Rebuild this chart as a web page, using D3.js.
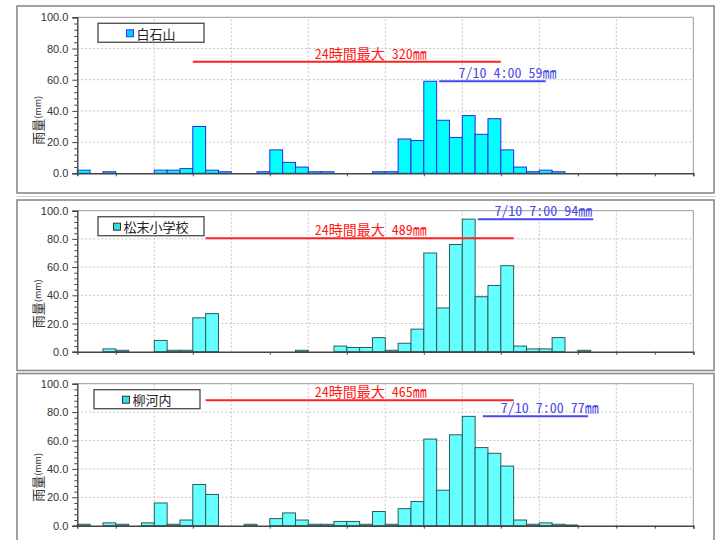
<!DOCTYPE html>
<html lang="ja">
<head>
    <meta charset="UTF-8">
    <title>雨量</title>
    <script src="https://d3js.org/d3.v7.min.js"></script>
    <style>
        body { margin: 0; background: #ffffff; }
        svg { display: block; }
        .tick text { font-family: "Liberation Sans", Arial, sans-serif; font-size: 11px; fill: #333; }
        .ann { font-family: "Noto Sans Mono CJK JP", "Noto Sans CJK JP", sans-serif; font-size: 14px; }
    </style>
</head>
<body>
<div id="chart"></div>
<script>
    // hourly rainfall (mm), 48 hours per station
    const stations = ["白石山", "松末小学校", "柳河内"];
    const rainShiraishi = [2, 0, 1, 0, 0, 0, 2, 2, 3, 30, 2, 1, 0, 0, 1, 15, 7, 4, 1, 1, 0, 0, 0, 1,
                           1, 22, 21, 59, 34, 23, 37, 25, 35, 15, 4, 1, 2, 1, 0, 0, 0, 0, 0, 0, 0, 0, 0, 0];
    const rainMatsusue  = [0, 0, 2, 1, 0, 0, 8, 1, 1, 24, 27, 0, 0, 0, 0, 0, 0, 1, 0, 0, 4, 3, 3, 10,
                           1, 6, 16, 70, 31, 76, 94, 39, 47, 61, 4, 2, 2, 10, 0, 1, 0, 0, 0, 0, 0, 0, 0, 0];
    const rainYanagawachi = [1, 0, 2, 1, 0, 2, 16, 1, 4, 29, 22, 0, 0, 1, 0, 5, 9, 4, 1, 1, 3, 3, 1, 10,
                             1, 12, 17, 61, 25, 64, 77, 55, 51, 42, 4, 1, 2, 1, 0.5, 0, 0, 0, 0, 0, 0, 0, 0, 0];
    const total24 = [320, 489, 465];
    const window24Start = [9, 10, 10];
    const peakLabel = ["7/10 4:00", "7/10 7:00", "7/10 7:00"];
    const peakValue = [59, 94, 77];

    const yTicks = [0, 20, 40, 60, 80, 100];
    const yMinorTicks = d3.range(0, 101, 4).filter(v => v % 20 !== 0);
    const xTickHours = [3, 9, 15, 21, 27, 33, 39, 42, 45, 48];
    const xGridHours = [6, 12, 18, 24, 30, 36, 42];

    const series = [rainShiraishi, rainMatsusue, rainYanagawachi];

    // layout per panel
    const layout = [
        { frame: [17, 6, 714, 193], top: 17.3, bottom: 173.3, fill: "#00ffff", stroke: "#2a2ae6",
          mFill: "#00ccff", mStroke: "#3333ff", legX: 98, redAt: 71.5, blueFrom: 28.2, blueTo: 36.5, blueText: 29.7 },
        { frame: [17, 200, 714, 370.5], top: 210.7, bottom: 351.7, fill: "#66ffff", stroke: "#2e5a5a",
          mFill: "#33e0e0", mStroke: "#333", legX: 98, redAt: 80.4, blueFrom: 31.2, blueTo: 40.2, blueText: 32.5 },
        { frame: [17, 373.5, 714, 548], top: 383.7, bottom: 525.7, fill: "#66ffff", stroke: "#2e5a5a",
          mFill: "#33e0e0", mStroke: "#333", legX: 94, redAt: 88.3, blueFrom: 31.6, blueTo: 39.8, blueText: 33.0 }
    ];

    const width = 716, height = 540;
    const svg = d3.select("#chart").append("svg")
        .attr("width", width)
        .attr("height", height);

    const x = d3.scaleLinear().domain([0, 48]).range([77.3, 693.3]);

    // separator line between first two images
    svg.append("line")
        .attr("x1", 17).attr("x2", 716).attr("y1", 196.5).attr("y2", 196.5)
        .attr("stroke", "#d4d4d4").attr("stroke-width", 1);

    series.forEach((values, i) => {
        const L = layout[i];
        const y = d3.scaleLinear().domain([0, 100]).range([L.bottom, L.top]);
        const g = svg.append("g");

        // frame
        g.append("rect")
            .attr("x", L.frame[0]).attr("y", L.frame[1])
            .attr("width", L.frame[2] - L.frame[0]).attr("height", L.frame[3] - L.frame[1])
            .attr("fill", "none").attr("stroke", "#8a8a8a").attr("stroke-width", 1.6);

        // gridlines
        g.selectAll(".hgrid").data(yTicks.slice(1, -1)).enter().append("line")
            .attr("x1", x(0)).attr("x2", x(48))
            .attr("y1", d => y(d)).attr("y2", d => y(d))
            .attr("stroke", "#c4c4c4").attr("stroke-dasharray", "2,2");
        g.selectAll(".vgrid").data(xGridHours).enter().append("line")
            .attr("x1", d => x(d)).attr("x2", d => x(d))
            .attr("y1", y(0)).attr("y2", y(100))
            .attr("stroke", "#c4c4c4").attr("stroke-dasharray", "2,2");

        // plot border top / right
        g.append("path")
            .attr("d", `M${x(0)},${y(100)}H${x(48)}V${y(0)}`)
            .attr("fill", "none").attr("stroke", "#9a9a9a");

        // bars
        g.selectAll(".bar").data(values.map((v, h) => ({ h, v })).filter(d => d.v > 0))
            .enter().append("rect")
            .attr("x", d => x(d.h))
            .attr("width", x(1) - x(0))
            .attr("y", d => y(d.v))
            .attr("height", d => y(0) - y(d.v))
            .attr("fill", L.fill)
            .attr("stroke", L.stroke)
            .attr("stroke-width", 1);

        // y axis
        const yAxis = g.append("g")
            .attr("transform", `translate(${x(0)},0)`)
            .call(d3.axisLeft(y).tickValues(yTicks).tickSize(5).tickPadding(4).tickFormat(d3.format(".1f")));
        g.append("g")
            .attr("transform", `translate(${x(0)},0)`)
            .call(d3.axisLeft(y).tickValues(yMinorTicks).tickSize(3).tickFormat(""))
            .call(a => a.select(".domain").remove());
        yAxis.select(".domain").attr("stroke", "#444").attr("stroke-width", 1.4);

        // x axis
        g.append("g")
            .attr("transform", `translate(0,${y(0)})`)
            .call(d3.axisBottom(x).tickValues(xTickHours).tickSize(3).tickFormat(""))
            .call(a => a.select(".domain").attr("stroke", "#444").attr("stroke-width", 1.4));
        g.selectAll(".tick line").attr("stroke", "#444");

        // y axis title
        const title = g.append("text")
            .attr("transform", `translate(37,${y(34)}) rotate(-90)`)
            .attr("text-anchor", "middle")
            .attr("dominant-baseline", "central")
            .attr("font-family", "'Noto Sans CJK JP', sans-serif")
            .attr("fill", "#333");
        title.append("tspan").attr("font-size", 13).text("雨量");
        title.append("tspan").attr("font-size", 9).text("(mm)");

        // legend
        const lg = g.append("g").attr("transform", `translate(${L.legX},${L.top + 6})`);
        lg.append("rect")
            .attr("width", 106).attr("height", 19)
            .attr("fill", "#fff").attr("stroke", "#555").attr("stroke-width", 1.4);
        const lt = lg.append("text")
            .attr("x", 53 + 5).attr("y", 10)
            .attr("text-anchor", "middle")
            .attr("dominant-baseline", "central")
            .attr("font-family", "'Noto Sans CJK JP', sans-serif")
            .attr("font-size", 13)
            .attr("fill", "#222")
            .text(stations[i]);
        const tw = lt.node().getComputedTextLength();
        lg.append("rect")
            .attr("x", 58 - tw / 2 - 10).attr("y", 6.5)
            .attr("width", 7).attr("height", 7)
            .attr("fill", L.mFill).attr("stroke", L.mStroke);

        // 24h max annotation
        const ws = window24Start[i];
        g.append("line")
            .attr("x1", x(ws)).attr("x2", x(ws + 24))
            .attr("y1", y(L.redAt)).attr("y2", y(L.redAt))
            .attr("stroke", "#ff2020").attr("stroke-width", 2);
        g.append("text").attr("class", "ann")
            .attr("x", x(18.5)).attr("y", y(L.redAt) - 3)
            .attr("fill", "#ff1a1a")
            .text(`24時間最大 ${total24[i]}㎜`);

        // hourly peak annotation
        g.append("line")
            .attr("x1", x(L.blueFrom)).attr("x2", x(L.blueTo))
            .attr("y1", y(peakValue[i])).attr("y2", y(peakValue[i]))
            .attr("stroke", "#4a4af0").attr("stroke-width", 2);
        g.append("text").attr("class", "ann")
            .attr("x", x(L.blueText)).attr("y", y(peakValue[i]) - 3)
            .attr("fill", "#4a4ae8")
            .text(`${peakLabel[i]} ${peakValue[i]}㎜`);
    });
</script>
</body>
</html>
